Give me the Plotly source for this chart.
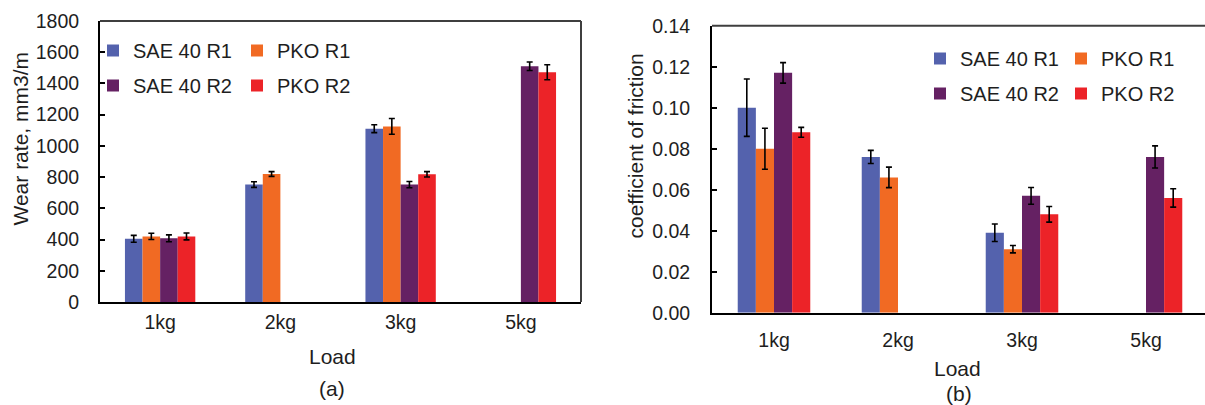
import plotly.graph_objects as go

W, H = 1205, 405

loads = ["1kg", "2kg", "3kg", "5kg"]
series_names = ["SAE 40 R1", "PKO R1", "SAE 40 R2", "PKO R2"]
colors = ["#5462AD", "#F16A23", "#652163", "#EC2328"]

# (a) Wear rate, mm3/m
wear_sae_r1 = [405, 752, 1110, None]
wear_pko_r1 = [420, 820, 1125, None]
wear_sae_r2 = [408, None, 752, 1510]
wear_pko_r2 = [420, None, 818, 1472]
wear_err_sae_r1 = [22, 18, 25, 0]
wear_err_pko_r1 = [20, 15, 50, 0]
wear_err_sae_r2 = [22, 0, 20, 27]
wear_err_pko_r2 = [22, 0, 17, 48]

# (b) Coefficient of friction
cof_sae_r1 = [0.100, 0.076, 0.039, None]
cof_pko_r1 = [0.080, 0.066, 0.031, None]
cof_sae_r2 = [0.117, None, 0.057, 0.076]
cof_pko_r2 = [0.088, None, 0.048, 0.056]
cof_err_sae_r1 = [0.014, 0.0032, 0.0043, 0]
cof_err_pko_r1 = [0.010, 0.005, 0.0018, 0]
cof_err_sae_r2 = [0.005, 0, 0.0041, 0.0054]
cof_err_pko_r2 = [0.0024, 0, 0.0038, 0.0045]

wear = [wear_sae_r1, wear_pko_r1, wear_sae_r2, wear_pko_r2]
wear_err = [wear_err_sae_r1, wear_err_pko_r1, wear_err_sae_r2, wear_err_pko_r2]
cof = [cof_sae_r1, cof_pko_r1, cof_sae_r2, cof_pko_r2]
cof_err = [cof_err_sae_r1, cof_err_pko_r1, cof_err_sae_r2, cof_err_pko_r2]

FONT = "Liberation Sans, Arial, sans-serif"
TXT = "#1e1e1e"

def px_x(p):
    return p / W

def px_y(p):
    return 1 - p / H

fig = go.Figure()

left_legends = ["legend", "legend2", "legend", "legend2"]
right_legends = ["legend3", "legend4", "legend3", "legend4"]

for i in range(4):
    fig.add_trace(go.Bar(
        x=loads, y=wear[i], name=series_names[i],
        marker=dict(color=colors[i], line=dict(width=0)),
        error_y=dict(type="data", array=wear_err[i], visible=True,
                     color="black", thickness=1.6, width=3),
        xaxis="x", yaxis="y", legend=left_legends[i],
        legendgroup="a%d" % i,
    ))
for i in range(4):
    fig.add_trace(go.Bar(
        x=loads, y=cof[i], name=series_names[i],
        marker=dict(color=colors[i], line=dict(width=0)),
        error_y=dict(type="data", array=cof_err[i], visible=True,
                     color="black", thickness=1.6, width=3),
        xaxis="x2", yaxis="y2", legend=right_legends[i],
        legendgroup="b%d" % i,
    ))

# plot area geometry (pixels)
L1, R1, T1, B1 = 100, 581, 21, 302
L2, R2, T2, B2 = 712, 1205, 25.7, 312.7
span2 = 124.0
r2max = -0.5 + (R2 - L2) / span2

axis_common = dict(showgrid=False, zeroline=False, showline=True,
                   linecolor="black", linewidth=2, automargin=False,
                   tickfont=dict(family=FONT, size=19.5, color=TXT))

fig.update_layout(
    width=W, height=H,
    margin=dict(l=0, r=0, t=0, b=0, pad=0, autoexpand=False),
    paper_bgcolor="white", plot_bgcolor="white",
    barmode="group", bargap=0.415, bargroupgap=0,
    font=dict(family=FONT, color=TXT),
    xaxis=dict(domain=[px_x(L1), px_x(R1)], anchor="y", type="category",
               range=[-0.5, 3.5], ticks="", ticklabelstandoff=2, **axis_common),
    yaxis=dict(domain=[px_y(B1), px_y(T1)], anchor="x", range=[0, 1800],
               dtick=200, ticks="inside", ticklen=5, tickwidth=1.5, tickcolor="black",
               ticklabelstandoff=15, **axis_common),
    xaxis2=dict(domain=[px_x(L2), 1.0], anchor="y2", type="category",
                range=[-0.5, r2max], ticks="", ticklabelstandoff=9, **axis_common),
    yaxis2=dict(domain=[px_y(B2), px_y(T2)], anchor="x2", range=[0, 0.14],
                dtick=0.02, tickformat=".2f", ticks="inside", ticklen=5, tickwidth=1.5,
                tickcolor="black", ticklabelstandoff=16, **axis_common),
)

leg_common = dict(orientation="v", xanchor="left", yanchor="top",
                  bgcolor="rgba(0,0,0,0)", borderwidth=0, tracegroupgap=6,
                  font=dict(family=FONT, size=20, color=TXT))
fig.update_layout(
    legend=dict(x=px_x(93), y=px_y(31), **leg_common),
    legend2=dict(x=px_x(237), y=px_y(31), **leg_common),
    legend3=dict(x=px_x(920), y=px_y(39), **leg_common),
    legend4=dict(x=px_x(1061), y=px_y(39), **leg_common),
)

# top / right frame lines (gray)
fig.add_shape(type="line", xref="paper", yref="paper",
              x0=px_x(L1), x1=px_x(R1), y0=px_y(T1), y1=px_y(T1),
              line=dict(color="#3f3f3f", width=2))
fig.add_shape(type="line", xref="paper", yref="paper",
              x0=px_x(R1), x1=px_x(R1), y0=px_y(T1), y1=px_y(B1),
              line=dict(color="#3f3f3f", width=2))
fig.add_shape(type="line", xref="paper", yref="paper",
              x0=px_x(L2), x1=1.0, y0=px_y(T2), y1=px_y(T2),
              line=dict(color="#3f3f3f", width=2))

def ann(text, x, y, size=21, angle=0):
    fig.add_annotation(text=text, x=px_x(x), y=px_y(y), xref="paper", yref="paper",
                       xanchor="center", yanchor="middle", showarrow=False,
                       textangle=angle, font=dict(family=FONT, size=size, color=TXT))

ann("Wear rate, mm3/m", 20, 139.5, angle=-90)
ann("Load", 332, 356)
ann("(a)", 332, 388)
ann("coefficient of friction", 635, 146.5, angle=-90)
ann("Load", 958, 368)
ann("(b)", 959, 393)

fig.write_html("out.html", config={"displayModeBar": False},
               post_script="document.body.style.margin='0';document.body.style.overflow='hidden';")
